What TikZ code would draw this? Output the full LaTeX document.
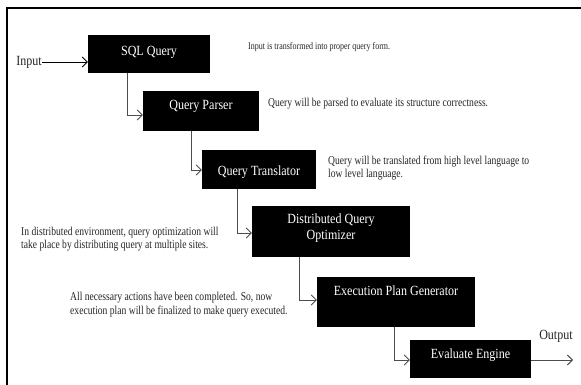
\documentclass[tikz,border=0pt]{standalone}
\usepackage{fontspec}
\setmainfont{Liberation Serif}
\newfontfamily\stagefont{Liberation Serif}[FakeStretch=0.86]
\newfontfamily\notefont{Liberation Serif}[FakeStretch=0.8]
\usetikzlibrary{arrows.meta,calc}

\begin{document}
\begin{tikzpicture}[x=1pt,y=-1pt,
  stage/.style={fill=black, inner sep=0pt},
  stagetext/.style={text=white, font=\stagefont\fontsize{14}{16}\selectfont,
    align=center, inner sep=0pt},
  note/.style={font=\notefont\fontsize{12}{13.5}\selectfont, text=black!85,
    align=left, inner sep=0pt, anchor=west},
  endlabel/.style={font=\stagefont\fontsize{14}{16}\selectfont, text=black!85,
    inner sep=0pt},
  conn/.style={draw=black!70, line width=0.9pt,
    -{Straight Barb[length=5pt,width=10pt,line width=0.9pt]}}
]
\path[use as bounding box, fill=white] (0,0) rectangle (581,385);

% frame (open on the right and at the bottom)
\draw[line width=2pt] (581,8) -- (7,8) -- (7,385);

% pipeline stages
\node[stage, minimum width=122pt, minimum height=38pt] (sql)    at (149,54)    {};
\node[stage, minimum width=116pt, minimum height=40pt] (parser) at (201,111)   {};
\node[stage, minimum width=114pt, minimum height=39pt] (trans)  at (259,169.5) {};
\node[stage, minimum width=158pt, minimum height=51pt] (opt)    at (331,231.5) {};
\node[stage, minimum width=158pt, minimum height=50pt] (plan)   at (396,302)   {};
\node[stage, minimum width=121pt, minimum height=38pt] (eval)   at (470.5,359) {};

% stage captions
\node[stagetext] (sql-t)    at (149,52)    {SQL Query};
\node[stagetext] (parser-t) at (201,106)   {Query Parser};
\node[stagetext] (trans-t)  at (259,172)   {Query Translator};
\node[stagetext] (opt-t)    at (331,228.5) {Distributed Query\\Optimizer};
\node[stagetext] (plan-t)   at (396,291)   {Execution Plan Generator};
\node[stagetext] (eval-t)   at (470.5,355) {Evaluate Engine};

% input / output
\node[endlabel, anchor=east] (in) at (42,62) {Input};
\node[endlabel] (out) at (556,336) {Output};
\coordinate (outend) at (573,360);

% remarks beside the stages
\node[note, font=\notefont\fontsize{10}{12}\selectfont] (n1) at (248,47)
  {Input is transformed into proper query form.};
\node[note] (n2) at (268,104) {Query will be parsed to evaluate its structure correctness.};
\node[note] (n3) at (328,168) {Query will be translated from high level language to\\low level language.};
\node[note] (n4) at (21,239)  {In distributed environment, query optimization will\\take place by distributing query at multiple sites.};
\node[note] (n5) at (70,304.5) {All necessary actions have been completed. So, now\\execution plan will be finalized to make query executed.};

% connectors
\draw[conn, draw=black] (in.east) -- (sql.west |- in.east);
\draw[conn] ($(sql.south west)+(40,0)$)    |- ($(parser.west)+(0,4)$);
\draw[conn] ($(parser.south west)+(49,0)$) |- ($(trans.west)+(0,0.5)$);
\draw[conn] ($(trans.south west)+(36,0)$)  |- ($(opt.west)+(0,1.5)$);
\draw[conn] ($(opt.south west)+(48,0)$)    |- ($(plan.west)+(0,-2)$);
\draw[conn] ($(plan.south west)+(78,0)$)   |- ($(eval.west)+(0,1)$);
\draw[conn] ($(eval.east)+(0,1)$) -- (outend);
\end{tikzpicture}
\end{document}
